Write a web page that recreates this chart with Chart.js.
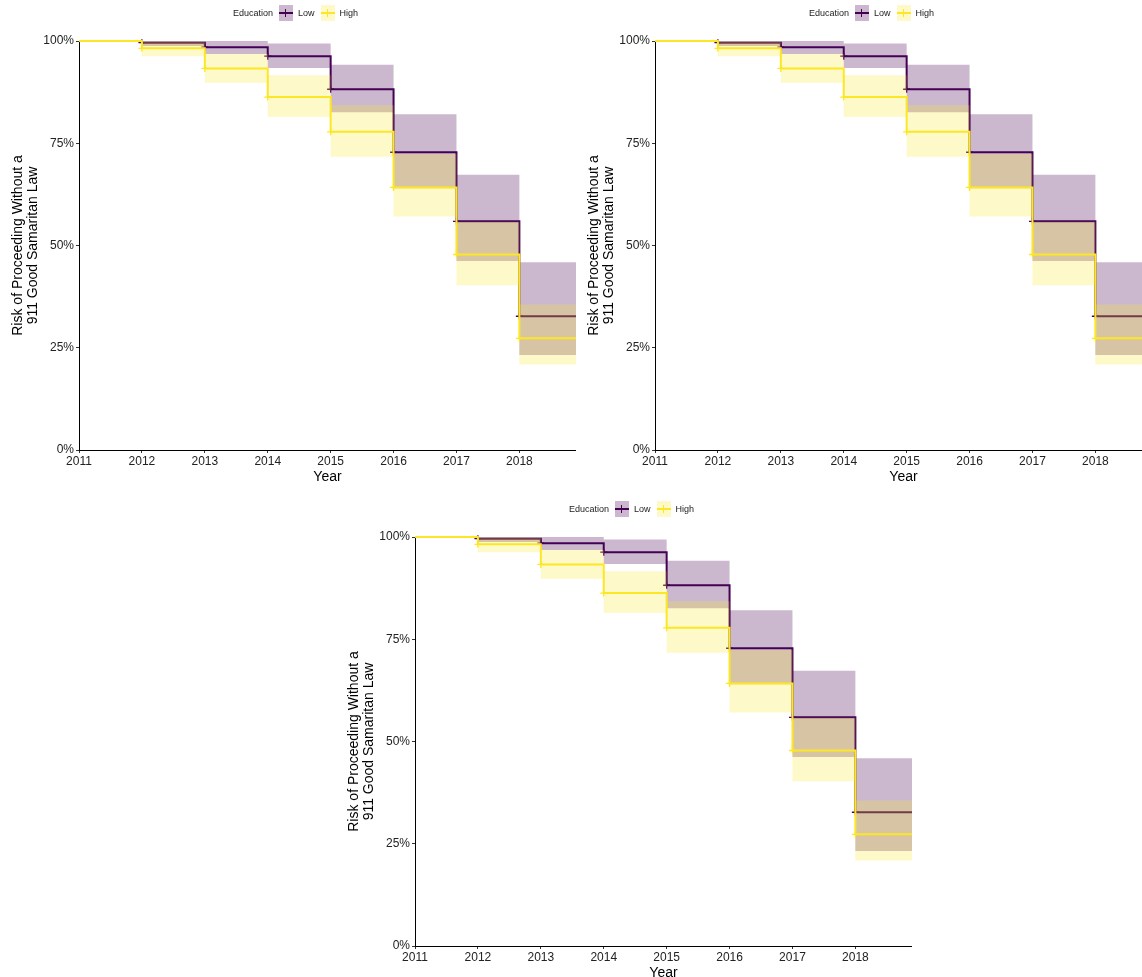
<!DOCTYPE html>
<html>
<head>
<meta charset="utf-8">
<script src="https://cdn.jsdelivr.net/npm/chart.js@4.4.1/dist/chart.umd.min.js"></script>
<style>
  html, body { margin: 0; padding: 0; background: #fff; overflow: hidden; width: 1142px; height: 977px; }
  .panel { position: absolute; width: 576px; height: 490px; }
  .panel canvas { position: absolute; left: 0; top: 0; }
  .legend { position: absolute; left: 233px; top: 5px; height: 16px; display: flex; align-items: center;
            font-family: "Liberation Sans", Arial, sans-serif; font-size: 9px; color: #222; }
  .legend .key { position: relative; width: 14px; height: 16px; margin: 0 5px 0 6px; }
  .legend .key .h { position: absolute; left: 0; right: 0; top: 7px; height: 2px; }
  .legend .key .v { position: absolute; left: 6px; width: 1px; top: 4px; height: 8px; }
</style>
</head>
<body>
<script>
// survival estimates per year (step starts), percent
var years = [2011, 2012, 2013, 2014, 2015, 2016, 2017, 2018];
var xEnd = 2018.9;
var lowRisk   = [100, 99.6, 98.5, 96.3, 88.2, 72.8, 55.9, 32.7];
var lowUpper  = [100, 100, 100, 99.4, 94.2, 82.1, 67.3, 45.9];
var lowLower  = [100, 98.8, 96.8, 93.4, 82.6, 64.0, 46.2, 23.2];
var highRisk  = [100, 98.2, 93.3, 86.3, 77.8, 64.2, 47.8, 27.3];
var highUpper = [100, 99.8, 96.9, 91.6, 84.3, 72.4, 55.8, 35.6];
var highLower = [100, 96.3, 89.8, 81.4, 71.7, 57.1, 40.3, 20.9];
var yTicks = [0, 25, 50, 75, 100];
var groups = ['Low', 'High'];

var lowColor = '#440154';
var highColor = '#FDE725';
var lowFill = 'rgba(68,1,84,0.28)';
var highFill = 'rgba(253,231,37,0.25)';
var fontFam = '"Liberation Sans", Arial, sans-serif';

function steps(arr) {
    var pts = [];
    for (let i = 0; i < years.length; i++) pts.push({ x: years[i], y: arr[i] });
    pts.push({ x: xEnd, y: arr[arr.length - 1] });
    return pts;
}

function crossRadius() {
    var r = [];
    for (let i = 0; i < years.length; i++) r.push(i == 0 ? 0 : 3.5);
    r.push(0);
    return r;
}

function makeLegend(panel) {
    const leg = document.createElement('div');
    leg.className = 'legend';
    const title = document.createElement('span');
    title.textContent = 'Education';
    leg.appendChild(title);
    const cols = [[lowColor, lowFill], [highColor, highFill]];
    groups.forEach((g, i) => {
        const key = document.createElement('div');
        key.className = 'key';
        key.style.background = cols[i][1];
        const h = document.createElement('div');
        h.className = 'h';
        h.style.background = cols[i][0];
        const v = document.createElement('div');
        v.className = 'v';
        v.style.background = cols[i][0];
        key.appendChild(h);
        key.appendChild(v);
        leg.appendChild(key);
        const lab = document.createElement('span');
        lab.textContent = g;
        leg.appendChild(lab);
    });
    panel.appendChild(leg);
}

function makePanel(left, top) {
    const panel = document.createElement('div');
    panel.className = 'panel';
    panel.style.left = left + 'px';
    panel.style.top = top + 'px';
    document.body.appendChild(panel);
    const canvas = document.createElement('canvas');
    canvas.width = 576;
    canvas.height = 490;
    panel.appendChild(canvas);
    makeLegend(panel);

    const band = (data, color, fill, order) => ({
        data: data, stepped: true, borderWidth: 0, pointRadius: 0,
        borderColor: 'rgba(0,0,0,0)', backgroundColor: color, fill: fill, order: order
    });
    const line = (data, color, order) => ({
        data: data, stepped: true, borderWidth: 2, borderColor: color, fill: false,
        pointStyle: 'cross', pointRadius: crossRadius(), pointBorderWidth: 1.3,
        pointBorderColor: color, pointHoverRadius: 0, order: order, clip: 8
    });

    new Chart(canvas, {
        type: 'line',
        data: {
            datasets: [
                band(steps(lowUpper), lowFill, '+1', 4),
                band(steps(lowLower), lowFill, false, 4),
                line(steps(lowRisk), lowColor, 3),
                band(steps(highUpper), highFill, '+1', 2),
                band(steps(highLower), highFill, false, 2),
                line(steps(highRisk), highColor, 1)
            ]
        },
        options: {
            responsive: false,
            animation: false,
            layout: { padding: { top: 41, left: 0, right: 0, bottom: 0 } },
            plugins: { legend: { display: false }, tooltip: { enabled: false } },
            scales: {
                x: {
                    type: 'linear', min: 2011, max: xEnd,
                    afterBuildTicks: (s) => { s.ticks = years.map(v => ({ value: v })); },
                    afterFit: (s) => { s.height = 40; },
                    grid: { drawOnChartArea: false, drawTicks: true, tickLength: 3, color: '#333' },
                    border: { display: true, color: '#000', width: 1 },
                    ticks: { padding: 1, maxRotation: 0, color: '#222', font: { family: fontFam, size: 12 },
                             callback: (v) => String(v) },
                    title: { display: true, text: 'Year', color: '#000', font: { family: fontFam, size: 14 },
                             padding: { top: 0, bottom: 4 } }
                },
                y: {
                    min: 0, max: 100,
                    afterBuildTicks: (s) => { s.ticks = yTicks.map(v => ({ value: v })); },
                    afterFit: (s) => { s.width = 79; },
                    grid: { drawOnChartArea: false, drawTicks: true, tickLength: 3, color: '#333' },
                    border: { display: true, color: '#000', width: 1 },
                    ticks: { padding: 2, color: '#222', font: { family: fontFam, size: 12 },
                             callback: (v) => v + '%' },
                    title: { display: true, text: ['Risk of Proceeding Without a', '911 Good Samaritan Law'],
                             color: '#000', font: { family: fontFam, size: 14, lineHeight: 1.05 },
                             padding: { top: 11, bottom: 0 } }
                }
            }
        }
    });
}

makePanel(0, 0);
makePanel(576, 0);
makePanel(336, 496);
</script>
</body>
</html>
